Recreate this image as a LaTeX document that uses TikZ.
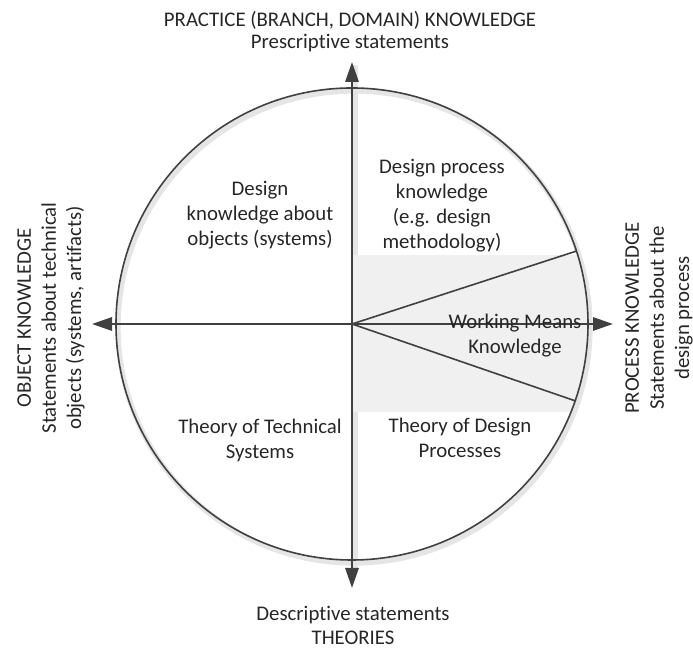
\documentclass[tikz,border=0pt]{standalone}
\usepackage{fontspec}
\setmainfont{Carlito}[Ligatures=CommonOff]
\usetikzlibrary{positioning, arrows.meta}

\begin{document}
\begin{tikzpicture}[x=0.75pt,y=0.75pt,
		rim/.style={draw=black!75, line width=1.2pt},
		axis/.style={draw=black!75, line width=1.5pt, {Triangle[length=15pt,width=10pt]}-{Triangle[length=15pt,width=10pt]}},
		shadow/.style={draw=black!10, line width=4pt},
		txt/.style={align=center, text=black!85, font=\fontsize{15.6}{18.8}\selectfont}]
			\useasboundingbox (0,0) rectangle (693,648);
			\coordinate (C) at (352,324);
			\coordinate (top) at (352,586);
			\coordinate (bot) at (352,60);
			\coordinate (lft) at (92,324);
			\coordinate (rgt) at (613,324);
			\path (C) ++(18:236) coordinate (w1);
			\path (C) ++(-19:236) coordinate (w2);
			% shadows
			\draw[shadow] (354,321) circle (236);
			\draw[shadow] (355,80) -- (355,583);
			% working means band
			\begin{scope}
				\clip (C) circle (236);
				\fill[black!6] (352,236) rectangle (600,393);
			\end{scope}
			\draw[rim] (C) circle (236);
			\draw[rim] (C) -- (w1);
			\draw[rim] (C) -- (w2);
			\draw[axis] (bot) -- (top);
			\draw[axis] (lft) -- (rgt);
			% labels
			\node[txt] (dpk)   at (442,442) {Design process\\knowledge\\(e.g. design\\methodology)};
			\node[txt] (dko)   at (260,433) {Design\\knowledge about\\objects (systems)};
			\node[txt] (wmk)   at (515,312) {Working Means\\Knowledge};
			\node[txt] (tts)   at (260,208) {Theory of Technical\\Systems};
			\node[txt] (tdp)   at (460,210) {Theory of Design\\Processes};
			\node[txt, font=\fontsize{15.6}{16.5}\selectfont] (prac) at (350,616) {PRACTICE (BRANCH, DOMAIN) KNOWLEDGE\\Prescriptive statements};
			\node[txt, font=\fontsize{15.6}{18}\selectfont] (theo) at (353,23) {Descriptive statements\\THEORIES};
			\node[txt, rotate=90] (objk) at (51,330) {OBJECT KNOWLEDGE\\Statements about technical\\objects (systems, artifacts)};
			\node[txt, rotate=90] (prok) at (659,330) {PROCESS KNOWLEDGE\\Statements about the\\design process};
	\end{tikzpicture}
\end{document}
